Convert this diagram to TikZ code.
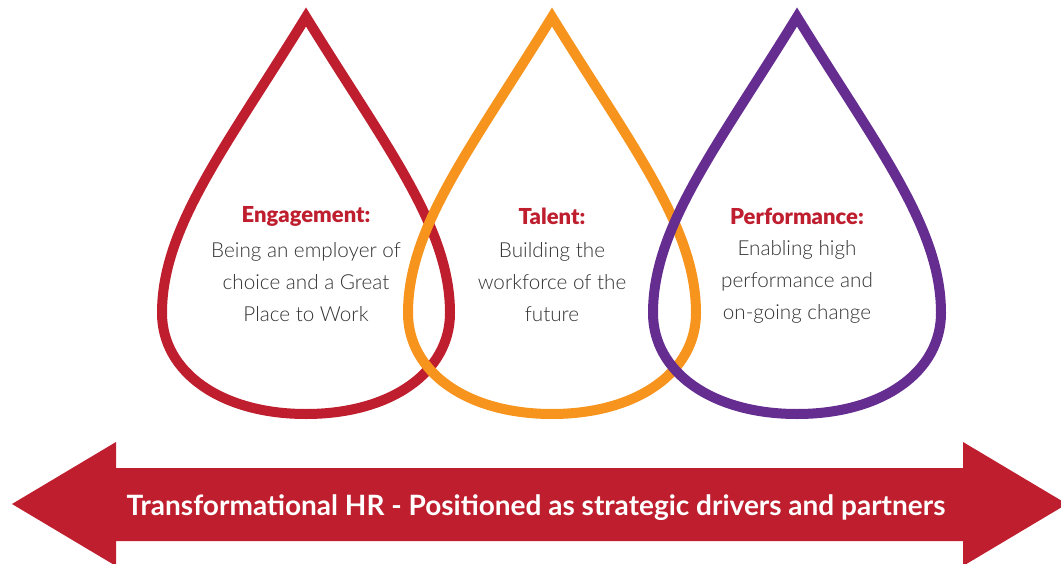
\documentclass[tikz,border=0pt]{standalone}
\usepackage{fontspec}
\setmainfont{Lato}
\newfontfamily\bodyfont{Lato Light}
\newfontfamily\heavyfont{Lato Black}
\usetikzlibrary{positioning}
\definecolor{hrred}{HTML}{BE1E2D}
\definecolor{hrorange}{HTML}{F7941D}
\definecolor{hrpurple}{HTML}{662D91}
\definecolor{hrgray}{HTML}{333333}

\begin{document}
\begin{tikzpicture}[x=0.75pt, y=-0.75pt,
  pics/drop/.style={code={
    \draw[line width=7.5pt, line join=miter, #1] (0,0)
      .. controls (80,130) and (144,210) .. (144,296)
      .. controls (144,355) and (85,397) .. (0,397)
      .. controls (-85,397) and (-144,355) .. (-144,296)
      .. controls (-144,210) and (-80,130) .. cycle;
  }},
  title/.style={text=hrred, font=\heavyfont\fontsize{16.5}{18}\selectfont},
  body/.style={text=hrgray, align=center, font=\bodyfont\fontsize{15.5}{24}\selectfont}]
\useasboundingbox (0,0) rectangle (1061,564);

% the three drops, later ones over earlier ones
\pic at (306,17) {drop=hrred};
\pic at (552,17) {drop=hrorange};
\pic at (797,17) {drop=hrpurple};

\node[title] (engage) at (306,216) {Engagement:};
\node[body] (engagetxt) at (306,282) {Being an employer of\\choice and a Great\\Place to Work};

\node[title] (talent) at (552,216) {Talent:};
\node[body] (talenttxt) at (552,282) {Building the\\workforce of the\\future};

\node[title] (perform) at (797,216) {Performance:};
\node[body] (performtxt) at (797,282) {Enabling high\\performance and\\on-going change};

% arrow along the bottom
\fill[hrred] (12,504) -- (116,442) -- (116,468) -- (963,468) -- (963,442)
  -- (1067,504) -- (963,566) -- (963,541) -- (116,541) -- (116,566) -- cycle;
\node[text=white, font=\fontsize{21}{22}\selectfont\bfseries] (hrline) at (536,508)
  {Transformational HR - Positioned as strategic drivers and partners};
\end{tikzpicture}
\end{document}
